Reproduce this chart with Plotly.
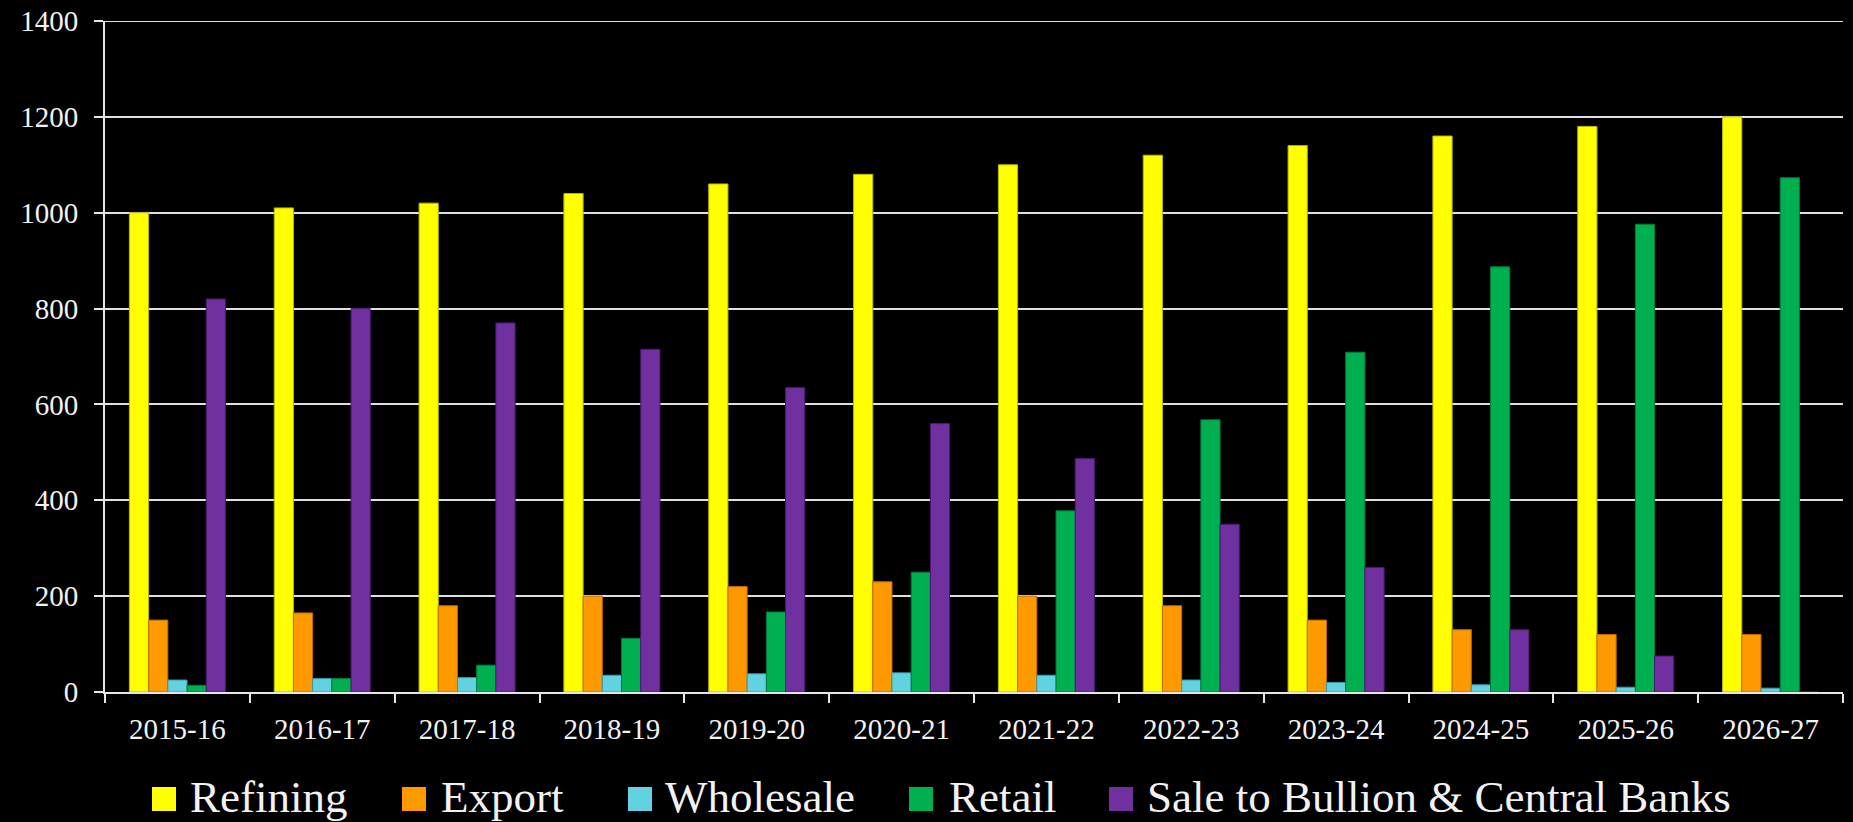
import plotly.graph_objects as go

categories = ["2015-16", "2016-17", "2017-18", "2018-19", "2019-20", "2020-21",
              "2021-22", "2022-23", "2023-24", "2024-25", "2025-26", "2026-27"]
refining = [1000, 1010, 1020, 1040, 1060, 1080, 1100, 1120, 1140, 1160, 1180, 1200]
export = [150, 165, 180, 200, 220, 230, 200, 180, 150, 130, 120, 120]
wholesale = [25, 28, 30, 35, 38, 40, 35, 25, 20, 15, 10, 8]
retail = [14, 28, 56, 112, 167, 250, 378, 568, 709, 887, 976, 1073]
bullion = [820, 800, 770, 715, 635, 560, 487, 350, 260, 130, 75, 0]
y_ticks = [0, 200, 400, 600, 800, 1000, 1200, 1400]

series_names = ["Refining", "Export", "Wholesale", "Retail", "Sale to Bullion & Central Banks"]
series_values = [refining, export, wholesale, retail, bullion]
colors = ["#FFFF00", "#FF9900", "#61D2E0", "#00B050", "#7030A0"]
edge_colors = ["#B8B800", "#C06800", "#3A9AA8", "#007A3A", "#4A1A70"]

W, H = 1853, 822
L, R, T, B = 105, 10, 21, 130
plot_w = W - L - R
plot_h = H - T - B
FONT = "Liberation Serif"

fig = go.Figure()
for name, vals, c, ec in zip(series_names, series_values, colors, edge_colors):
    fig.add_trace(go.Bar(
        x=categories, y=vals, name=name,
        marker=dict(color=c, line=dict(color=ec, width=1)),
        showlegend=False,
    ))

def px_x(p):
    return (p - L) / plot_w

def px_y(p):
    return (H - B - p) / plot_h

# manual legend (large swatches like the reference)
swatch_left = [152, 402, 628, 909, 1109]
text_left = [188, 439, 663, 947, 1145]
shapes = []
annotations = []
for name, c, sx, tx in zip(series_names, colors, swatch_left, text_left):
    shapes.append(dict(type="rect", xref="paper", yref="paper",
                       x0=px_x(sx), x1=px_x(sx + 24), y0=px_y(811), y1=px_y(787),
                       fillcolor=c, line=dict(width=0)))
    annotations.append(dict(xref="paper", yref="paper", x=px_x(tx), y=px_y(797),
                            xanchor="left", yanchor="middle", showarrow=False,
                            text=name, font=dict(family=FONT, size=45, color="#F2F2F2")))

# top gridline at the axis maximum (Plotly hides the edge gridline)
shapes.append(dict(type="line", xref="x domain", yref="y", x0=0, x1=1,
                   y0=y_ticks[-1], y1=y_ticks[-1], line=dict(color="#E0E0E0", width=2),
                   layer="below"))

fig.update_layout(
    width=W, height=H,
    margin=dict(l=L, r=R, t=T, b=B, autoexpand=False),
    paper_bgcolor="#000000", plot_bgcolor="#000000",
    barmode="group", bargap=0.337, bargroupgap=0,
    font=dict(family=FONT, color="#F2F2F2", size=29),
    shapes=shapes, annotations=annotations,
    xaxis=dict(
        type="category", automargin=False,
        showline=True, linecolor="#E6E6E6", linewidth=2,
        ticks="outside", tickson="boundaries", ticklen=9, tickwidth=2, tickcolor="#E6E6E6",
        tickfont=dict(family=FONT, size=29, color="#F2F2F2"),
        ticklabelstandoff=10,
        showgrid=False, zeroline=False,
    ),
    yaxis=dict(
        range=[y_ticks[0], y_ticks[-1]], tickvals=y_ticks,
        automargin=False,
        showline=True, linecolor="#E6E6E6", linewidth=2,
        ticks="outside", ticklen=9, tickwidth=2, tickcolor="#E6E6E6",
        showgrid=True, gridcolor="#E0E0E0", gridwidth=2,
        zeroline=False,
        tickfont=dict(family=FONT, size=29, color="#F2F2F2"),
        ticklabelstandoff=10,
    ),
)

fig.write_html("out.html")
